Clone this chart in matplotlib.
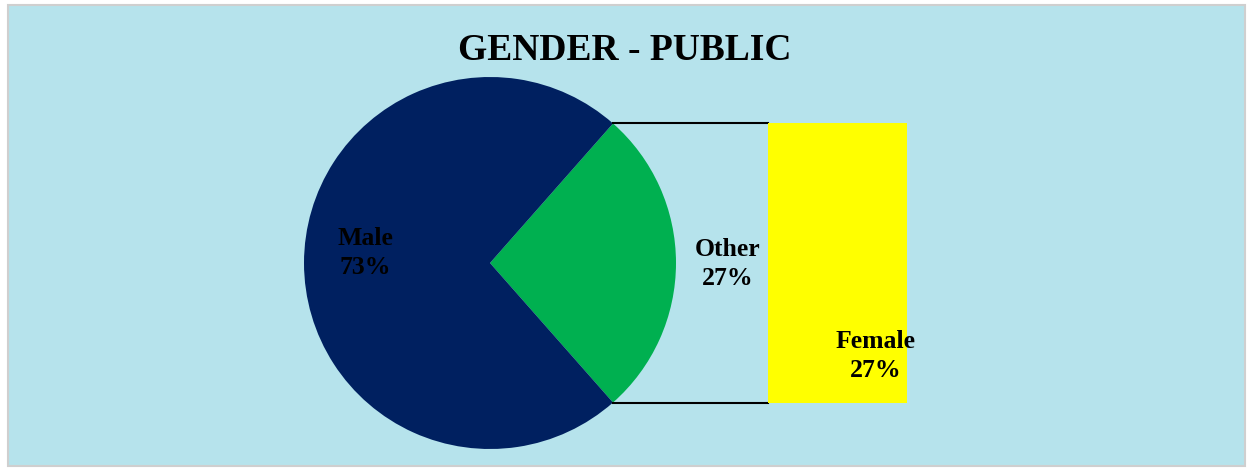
import numpy as np
import matplotlib.pyplot as plt
from matplotlib.patches import Rectangle

# data
pie_labels = ['Other', 'Male']
pie_values = [27, 73]
pie_colors = ['#00b050', '#002060']
bar_labels = ['Female']
bar_values = [27]
bar_colors = ['#ffff00']

W, H = 1253, 471
fig = plt.figure(figsize=(W / 100, H / 100), dpi=100, facecolor='white')
ax = fig.add_axes([0, 0, 1, 1])
ax.set_xlim(0, W)
ax.set_ylim(0, H)
ax.set_aspect('equal')
ax.axis('off')

# chart area background
ax.add_patch(Rectangle((8, 5), 1237, 461, facecolor='#b6e3ec', edgecolor='#cfcfcf', lw=1.5, zorder=0))

plt.rcParams['font.family'] = ['Liberation Serif', 'DejaVu Serif']

cx, cy, r = 490, H - 263, 186
half = pie_values[0] / sum(pie_values) * 360 / 2
ax.pie(pie_values, colors=pie_colors, startangle=-half, counterclock=True,
       center=(cx, cy), radius=r, frame=True, wedgeprops=dict(linewidth=0))
ax.set_xlim(0, W)
ax.set_ylim(0, H)
ax.axis('off')

# secondary bar (the "Other" slice broken out)
top_y = cy + r * np.sin(np.radians(half))
bot_y = cy - r * np.sin(np.radians(half))
edge_x = cx + r * np.cos(np.radians(half))
bar_left, bar_w = 768, 139
ax.bar(bar_left + bar_w / 2, top_y - bot_y, bottom=bot_y, width=bar_w,
       color=bar_colors[0], linewidth=0, zorder=3)
ax.plot([edge_x, bar_left], [top_y, top_y], color='black', lw=1.5, zorder=2)
ax.plot([edge_x, bar_left], [bot_y, bot_y], color='black', lw=1.5, zorder=2)

tkw = dict(fontsize=18.5, fontweight='bold', color='black', zorder=5, linespacing=1.3)
ax.text(365, H - 253, 'Male\n%d%%' % pie_values[1], ha='center', va='center', **tkw)
ax.text(728, H - 264, 'Other\n%d%%' % pie_values[0], ha='center', va='center', **tkw)
ax.text(876, H - 356, 'Female\n%d%%' % bar_values[0], ha='center', va='center', **tkw)

ax.text(625, H - 50, 'GENDER - PUBLIC', ha='center', va='center',
        fontsize=27, fontweight='bold', color='black')

fig.savefig('out.png', dpi=100, facecolor='white')
